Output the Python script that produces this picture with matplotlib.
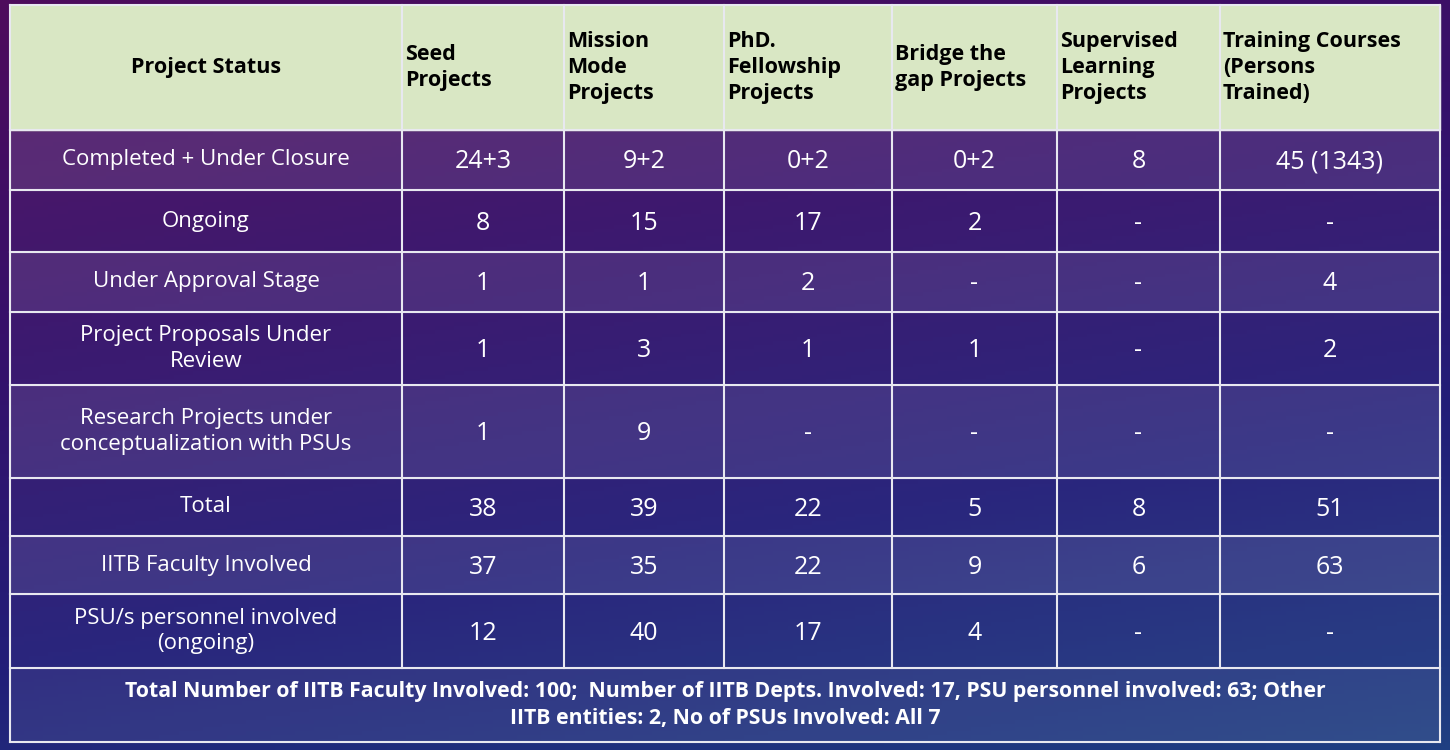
import numpy as np
import matplotlib
matplotlib.use("Agg")
import matplotlib.pyplot as plt
from matplotlib.colors import LinearSegmentedColormap

headers = ["Project Status", "Seed\nProjects", "Mission\nMode\nProjects", "PhD.\nFellowship\nProjects",
           "Bridge the\ngap Projects", "Supervised\nLearning\nProjects", "Training Courses\n(Persons\nTrained)"]
row_labels = ["Completed + Under Closure", "Ongoing", "Under Approval Stage",
              "Project Proposals Under\nReview", "Research Projects under\nconceptualization with PSUs",
              "Total", "IITB Faculty Involved", "PSU/s personnel involved\n(ongoing)"]
seed = ["24+3", "8", "1", "1", "1", "38", "37", "12"]
mission = ["9+2", "15", "1", "3", "9", "39", "35", "40"]
phd = ["0+2", "17", "2", "1", "-", "22", "22", "17"]
bridge = ["0+2", "2", "-", "1", "-", "5", "9", "4"]
supervised = ["8", "-", "-", "-", "-", "8", "6", "-"]
training = ["45 (1343)", "-", "4", "2", "-", "51", "63", "-"]
footer = ("Total Number of IITB Faculty Involved: 100;  Number of IITB Depts. Involved: 17, PSU personnel involved: 63; Other\n"
          "IITB entities: 2, No of PSUs Involved: All 7")

cols = [seed, mission, phd, bridge, supervised, training]
xb = [10, 402, 564, 724, 892, 1057, 1220, 1440]
yb = [5, 130, 190, 252, 312, 385, 478, 536, 594, 668]
yfoot = 742

fig = plt.figure(figsize=(14.5, 7.5), dpi=100)
ax = fig.add_axes([0, 0, 1, 1])
ax.set_xlim(0, 1450); ax.set_ylim(750, 0); ax.axis("off")

yy, xx = np.mgrid[0:1:200j, 0:1:300j]
t = np.clip(0.75 * yy + 0.25 * xx, 0, 1)
cmap = LinearSegmentedColormap.from_list("bg", ["#4e0c5c", "#36106a", "#221e78", "#1f3f82"])
ax.imshow(t, cmap=cmap, extent=[0, 1450, 750, 0], aspect="auto", zorder=0)

plt.rcParams["font.family"] = "Open Sans"
ax.add_patch(plt.Rectangle((xb[0], yb[0]), xb[-1] - xb[0], yb[1] - yb[0], color="#d9e7c4", zorder=1))
for i in range(len(row_labels)):
    a = 0.12 if i % 2 == 0 else 0.04
    ax.add_patch(plt.Rectangle((xb[0], yb[i + 1]), xb[-1] - xb[0], yb[i + 2] - yb[i + 1],
                               color="white", alpha=a, zorder=1))
ax.add_patch(plt.Rectangle((xb[0], yb[-1]), xb[-1] - xb[0], yfoot - yb[-1], color="white", alpha=0.08, zorder=1))

lc = "#e8e8f0"
for y in yb + [yfoot]:
    ax.plot([xb[0], xb[-1]], [y, y], color=lc, lw=1.5, zorder=3)
for x in xb:
    ax.plot([x, x], [yb[0], yb[-1] if x not in (xb[0], xb[-1]) else yfoot], color=lc, lw=1.5, zorder=3)

hy = (yb[0] + yb[1]) / 2
ax.text((xb[0] + xb[1]) / 2, hy, headers[0], ha="center", va="center", fontsize=15.5, weight="bold", color="black", zorder=4)
for j in range(1, 7):
    ax.text(xb[j] + 3, hy, headers[j], ha="left", va="center", fontsize=15.5, weight="bold",
            color="black", linespacing=1.3, zorder=4)

for i, lab in enumerate(row_labels):
    cy = (yb[i + 1] + yb[i + 2]) / 2
    ax.text((xb[0] + xb[1]) / 2, cy, lab, ha="center", va="center", fontsize=16, color="white",
            linespacing=1.3, zorder=4)
    for j, col in enumerate(cols):
        ax.text((xb[j + 1] + xb[j + 2]) / 2, cy + 2, col[i], ha="center", va="center", fontsize=18,
                color="white", zorder=4)

ax.text((xb[0] + xb[-1]) / 2, (yb[-1] + yfoot) / 2, footer, ha="center", va="center", fontsize=15.3,
        weight="bold", color="white", linespacing=1.4, zorder=4)

fig.savefig("out.png", dpi=100)
